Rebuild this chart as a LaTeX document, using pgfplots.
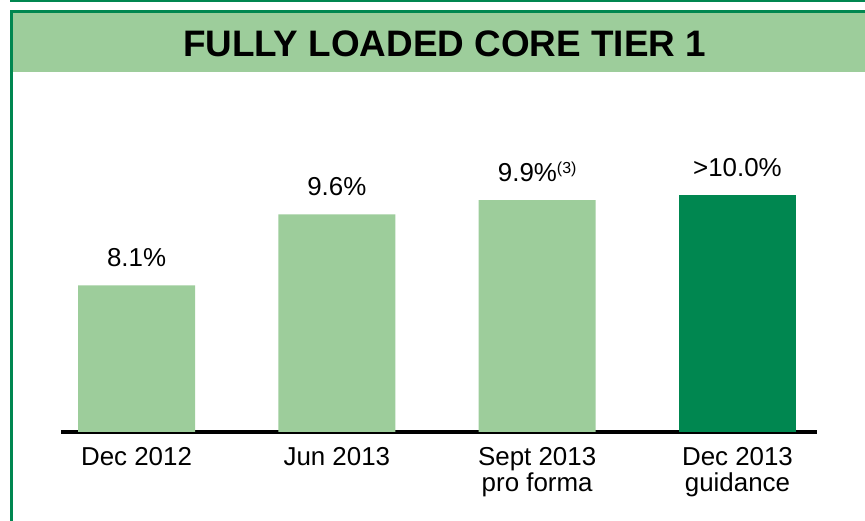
\documentclass[border=0pt]{standalone}
\usepackage{pgfplots}
\pgfplotsset{compat=1.18}
\usepackage{fontspec}
\setmainfont{Liberation Sans}
\definecolor{darkgreen}{RGB}{0,135,80}
\definecolor{lightgreen}{RGB}{157,205,155}
\begin{document}
\begin{tikzpicture}[x=1bp,y=1bp]
\path[use as bounding box] (0,0) rectangle (865,521);
% frame and title band
\fill[darkgreen] (10,518.7) rectangle (865,521);
\fill[darkgreen] (10,507.7) rectangle (865,511);
\fill[darkgreen] (10,0) rectangle (13.3,511);
\fill[lightgreen] (13.3,449.3) rectangle (865,507.7);
\node[anchor=base,inner sep=0pt,font=\bfseries\fontsize{37}{40}\selectfont] at (444.5,464) {FULLY LOADED CORE TIER 1};

\begin{axis}[
    at={(61bp,89bp)}, anchor=south west,
    width=756bp, height=307.5bp, scale only axis,
    xmin=-0.377, xmax=3.397,
    ymin=5, ymax=11.5,
    axis x line*=bottom, axis y line=none,
    axis line style={line width=3.3bp, black, -},
    xtick={0,1,2,3},
    xticklabels={Dec 2012, Jun 2013, {Sept 2013\\pro forma}, {Dec 2013\\guidance}},
    major tick length=0pt,
    xticklabel style={align=center, anchor=north, inner sep=0pt, yshift=-15bp,
        font=\fontsize{26}{26}\selectfont},
    ytick=\empty,
    point meta=explicit symbolic,
    nodes near coords,
    every node near coord/.style={anchor=base, inner sep=0pt, yshift=19bp,
        font=\fontsize{26}{26}\selectfont},
]
\addplot[ybar, bar shift=0pt, bar width=117bp, fill=lightgreen, draw=none]
    coordinates {(0,8.1) [{8.1\%}] (1,9.6) [{9.6\%}]
        (2,9.9) [{9.9\%\raisebox{8bp}{\fontsize{16}{16}\selectfont(3)}}]};
\addplot[ybar, bar shift=0pt, bar width=117bp, fill=darkgreen, draw=none]
    coordinates {(3,10.0) [{>10.0\%}]};
\end{axis}
\end{tikzpicture}
\end{document}
